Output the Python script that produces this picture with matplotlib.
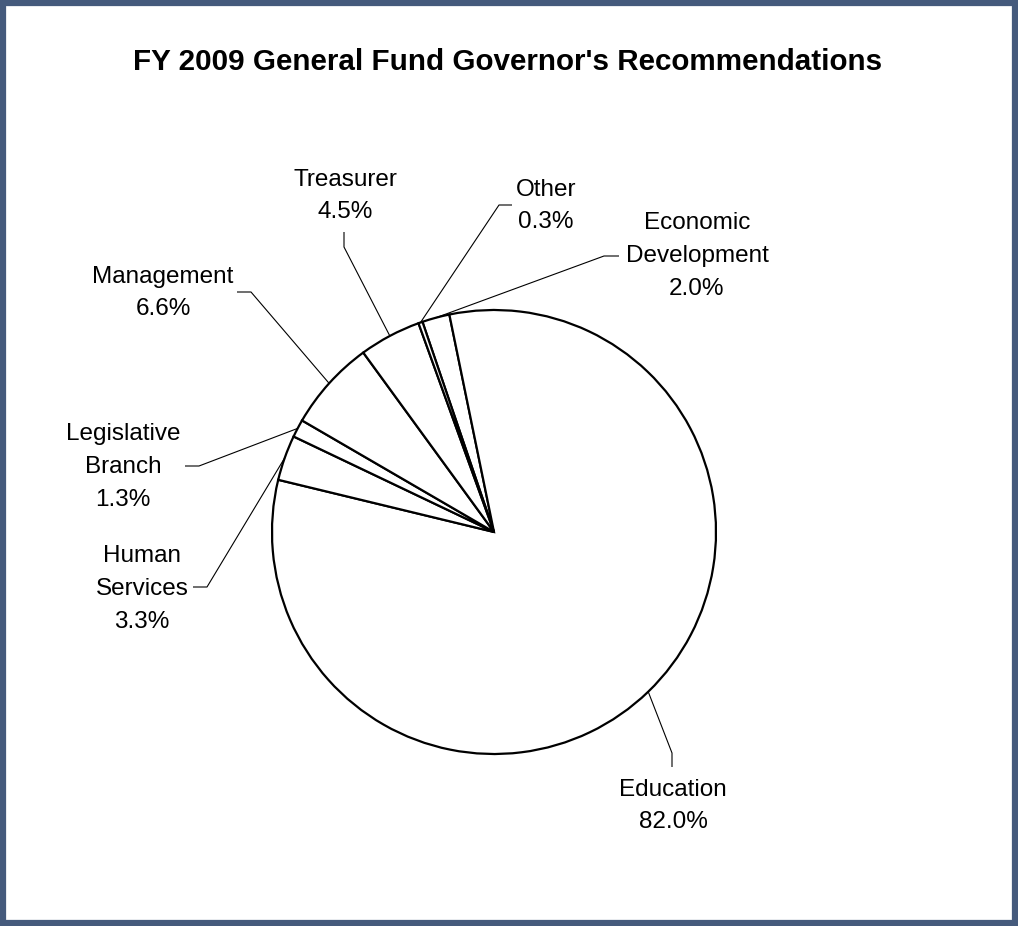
import numpy as np
import matplotlib
matplotlib.use('Agg')
import matplotlib.pyplot as plt
from matplotlib.patches import Rectangle

plt.rcParams['font.family'] = ['Liberation Sans', 'DejaVu Sans']

# slices, clockwise from the top
labels = ['Economic\nDevelopment', 'Education', 'Human\nServices', 'Legislative\nBranch',
          'Management', 'Treasurer', 'Other']
shares = [2.0, 82.0, 3.3, 1.3, 6.6, 4.5, 0.3]

W, H = 1018, 926

# label layout in pixels (from top-left): text centre, elbow, end of line at the text
label_layout = {
    'Economic\nDevelopment': ((697, 256), (604, 256), (619, 256)),
    'Education': ((673, 806), (672, 753), (672, 767)),
    'Human\nServices': ((142, 589), (207, 587), (193, 587)),
    'Legislative\nBranch': ((123, 467), (199, 466), (185, 466)),
    'Management': ((163, 293), (251, 292), (237, 292)),
    'Treasurer': ((345, 196), (344, 247), (344, 232)),
    'Other': ((546, 206), (499, 205), (512, 205)),
}

fig = plt.figure(figsize=(W / 100, H / 100), dpi=100)
ax = fig.add_axes([0, 0, 1, 1])

cx, cy, r = 494, H - 532, 222
wedges, _ = ax.pie(shares, startangle=108.8, counterclock=False,
                   center=(cx, cy), radius=r,
                   wedgeprops=dict(facecolor='white', edgecolor='black', linewidth=1.6))

for w, lab, val in zip(wedges, labels, shares):
    mid = np.deg2rad((w.theta1 + w.theta2) / 2)
    px, py = cx + r * np.cos(mid), cy + r * np.sin(mid)
    (tx, ty), (ex, ey), (ax_, ay_) = label_layout[lab]
    ax.plot([px, ex, ax_], [py, H - ey, H - ay_], color='black', lw=0.8,
            solid_capstyle='butt', zorder=1)
    ax.text(tx, H - ty, f'{lab}\n{val:.1f}%', ha='center', va='center',
            fontsize=17.5, linespacing=1.63, color='black')

ax.set_xlim(0, W)
ax.set_ylim(0, H)
ax.set_aspect('auto')
ax.axis('off')

fig.text(508 / W, 1 - 62 / H, "FY 2009 General Fund Governor's Recommendations",
         ha='center', va='center', fontsize=21.3, fontweight='bold')

fig.patches.append(Rectangle((3 / W, 3 / H), 1 - 6 / W, 1 - 6 / H,
                             transform=fig.transFigure, fill=False,
                             edgecolor='#455a7c', linewidth=4.5))

fig.savefig('out.png', dpi=100, facecolor='white')
